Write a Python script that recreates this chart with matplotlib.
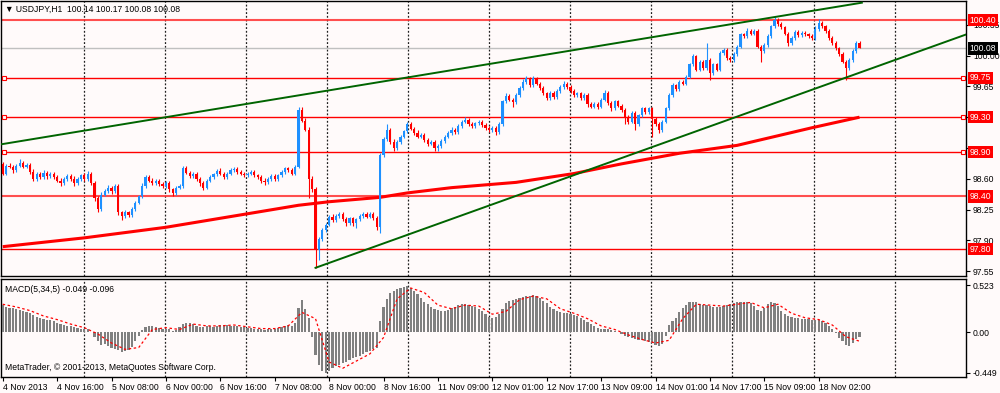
import numpy as np
import matplotlib
matplotlib.use('Agg')
import matplotlib.pyplot as plt
import matplotlib.transforms as mtransforms

# ---------------- data ----------------
first_open = 98.77
closes = [
    98.66, 98.75, 98.74, 98.70, 98.75, 98.78, 98.74, 98.76, 98.68, 98.60,
    98.66, 98.62, 98.67, 98.63, 98.66, 98.62, 98.58, 98.55, 98.60, 98.63,
    98.60, 98.55, 98.60, 98.64, 98.60, 98.66, 98.55, 98.38, 98.26, 98.42,
    98.46, 98.50, 98.46, 98.52, 98.22, 98.18, 98.22, 98.19, 98.26, 98.33,
    98.40, 98.52, 98.62, 98.58, 98.55, 98.58, 98.54, 98.52, 98.55, 98.48,
    98.44, 98.50, 98.52, 98.72, 98.67, 98.63, 98.66, 98.60, 98.55, 98.50,
    98.58, 98.62, 98.65, 98.69, 98.66, 98.62, 98.66, 98.70, 98.71, 98.68,
    98.66, 98.64, 98.66, 98.68, 98.64, 98.62, 98.58, 98.56, 98.60, 98.63,
    98.60, 98.64, 98.68, 98.72, 98.70, 98.66, 98.74, 99.38, 99.26, 99.16,
    98.60, 98.48, 97.79, 97.92, 98.02, 98.08, 98.17, 98.13, 98.18, 98.20,
    98.14, 98.10, 98.15, 98.10, 98.14, 98.18, 98.20, 98.17, 98.20, 98.15,
    98.05, 98.87, 99.05, 99.15, 99.02, 98.95, 99.02, 99.08, 99.14, 99.22,
    99.17, 99.12, 99.08, 99.10, 99.04, 99.00, 99.02, 98.95, 98.97, 99.03,
    99.08, 99.12, 99.16, 99.13, 99.20, 99.25, 99.27, 99.22, 99.20, 99.23,
    99.25, 99.21, 99.18, 99.15, 99.18, 99.13, 99.22, 99.48, 99.54, 99.50,
    99.47, 99.55, 99.63, 99.70, 99.74, 99.66, 99.74, 99.68, 99.63, 99.57,
    99.52, 99.58, 99.53, 99.60, 99.64, 99.68, 99.64, 99.60, 99.55, 99.57,
    99.52, 99.55, 99.45, 99.42, 99.45, 99.42, 99.50, 99.58, 99.46, 99.40,
    99.48, 99.43, 99.38, 99.30, 99.25, 99.35, 99.22, 99.32, 99.40, 99.36,
    99.40, 99.28, 99.22, 99.15, 99.25, 99.40, 99.55, 99.66, 99.62, 99.70,
    99.68, 99.76, 99.90, 99.99, 99.84, 99.93, 99.86, 99.95, 99.80, 99.90,
    99.84, 100.03, 100.06, 99.97, 99.95, 100.02, 100.10, 100.24, 100.22, 100.28,
    100.25, 100.28, 100.10, 100.05, 100.12, 100.22, 100.33, 100.40, 100.36, 100.32,
    100.25, 100.14, 100.20, 100.27, 100.23, 100.26, 100.24, 100.22, 100.20, 100.30,
    100.37, 100.33, 100.28, 100.20, 100.14, 100.08, 100.02, 99.93, 99.86, 99.95,
    100.05, 100.14, 100.08,
]
# wick lengths in pips (0.01)
wick_up = [
    2, 2, 3, 2, 2, 4, 2, 2, 2, 3, 2, 2, 3, 2, 2, 2, 2, 3, 2, 2,
    2, 3, 2, 2, 3, 3, 2, 2, 3, 3, 2, 3, 2, 2, 2, 2, 3, 2, 2, 2,
    2, 3, 2, 2, 3, 2, 2, 2, 2, 2, 2, 2, 2, 3, 3, 2, 2, 2, 2, 2,
    2, 2, 2, 2, 3, 2, 2, 2, 2, 3, 2, 2, 2, 2, 2, 2, 2, 3, 2, 2,
    2, 2, 2, 2, 2, 2, 2, 3, 3, 3, 3, 3, 3, 2, 2, 2, 2, 3, 2, 2,
    2, 3, 2, 2, 2, 2, 2, 2, 2, 2, 3, 2, 3, 7, 3, 3, 2, 2, 2, 3,
    2, 2, 3, 2, 2, 2, 2, 2, 2, 2, 2, 2, 3, 2, 2, 2, 3, 2, 2, 2,
    2, 2, 2, 2, 2, 2, 2, 2, 3, 2, 2, 2, 2, 3, 3, 2, 3, 2, 2, 2,
    2, 2, 2, 2, 2, 3, 2, 2, 2, 2, 2, 3, 2, 2, 2, 2, 2, 3, 2, 2,
    2, 2, 2, 2, 2, 2, 2, 2, 2, 2, 2, 2, 2, 2, 2, 2, 2, 3, 2, 2,
    2, 2, 2, 3, 2, 2, 2, 19, 2, 2, 2, 2, 3, 2, 2, 2, 2, 2, 2, 3,
    2, 2, 2, 2, 2, 2, 2, 4, 3, 2, 2, 2, 2, 2, 2, 2, 2, 2, 2, 3,
    5, 2, 2, 2, 2, 2, 2, 2, 2, 2, 2, 3, 3,
]
wick_dn = [
    2, 2, 2, 3, 2, 2, 2, 2, 3, 3, 2, 2, 2, 3, 2, 2, 2, 3, 2, 2,
    2, 3, 2, 2, 2, 2, 2, 3, 4, 2, 2, 2, 3, 2, 3, 5, 2, 2, 2, 2,
    2, 2, 2, 2, 2, 2, 2, 2, 2, 3, 3, 2, 2, 2, 2, 2, 2, 2, 3, 3,
    2, 2, 2, 2, 2, 2, 2, 2, 2, 2, 2, 2, 2, 2, 2, 2, 3, 3, 2, 2,
    2, 2, 2, 2, 2, 2, 2, 2, 2, 2, 22, 3, 20, 11, 3, 2, 2, 2, 2, 2,
    2, 3, 2, 3, 6, 2, 2, 2, 2, 2, 3, 7, 2, 2, 2, 3, 2, 2, 2, 2,
    2, 2, 2, 2, 2, 3, 2, 3, 3, 2, 2, 2, 2, 2, 2, 2, 2, 2, 2, 2,
    2, 2, 2, 2, 2, 3, 2, 2, 2, 2, 5, 2, 2, 2, 2, 2, 2, 2, 2, 2,
    3, 2, 2, 2, 2, 2, 2, 2, 2, 2, 2, 2, 3, 2, 2, 3, 2, 2, 2, 3,
    2, 2, 2, 8, 3, 2, 6, 2, 2, 2, 2, 20, 2, 3, 2, 2, 2, 2, 2, 2,
    2, 2, 2, 2, 2, 2, 2, 2, 8, 2, 2, 2, 2, 2, 2, 2, 2, 2, 2, 2,
    2, 2, 2, 12, 2, 2, 2, 2, 2, 2, 2, 3, 2, 2, 2, 2, 2, 2, 2, 2,
    2, 2, 2, 2, 2, 2, 2, 2, 14, 2, 2, 2, 0,
]
macd_hist = [
    0.30, 0.28, 0.27, 0.27, 0.26, 0.25, 0.24, 0.22, 0.21, 0.19,
    0.17, 0.16, 0.15, 0.14, 0.13, 0.12, 0.10, 0.09, 0.08, 0.07,
    0.07, 0.06, 0.05, 0.04, 0.04, 0.03, 0.00, -0.05, -0.10, -0.14,
    -0.13, -0.15, -0.17, -0.19, -0.20, -0.22, -0.21, -0.20, -0.16, -0.10,
    -0.04, 0.02, 0.06, 0.07, 0.07, 0.06, 0.05, 0.04, 0.03, 0.03,
    0.01, 0.02, 0.06, 0.09, 0.10, 0.10, 0.09, 0.07, 0.06, 0.06,
    0.07, 0.07, 0.06, 0.07, 0.08, 0.08, 0.08, 0.07, 0.07, 0.07,
    0.06, 0.06, 0.05, 0.05, 0.04, 0.03, 0.03, 0.02, 0.03, 0.04,
    0.04, 0.05, 0.06, 0.07, 0.08, 0.07, 0.10, 0.27, 0.36, 0.26,
    0.16, -0.05, -0.25, -0.36, -0.43, -0.45, -0.43, -0.40, -0.38, -0.36,
    -0.34, -0.33, -0.31, -0.29, -0.28, -0.26, -0.24, -0.22, -0.21, -0.19,
    -0.17, 0.12, 0.28, 0.37, 0.43, 0.46, 0.48, 0.49, 0.50, 0.51,
    0.49, 0.46, 0.42, 0.38, 0.34, 0.31, 0.28, 0.26, 0.25, 0.24,
    0.24, 0.25, 0.27, 0.28, 0.30, 0.31, 0.31, 0.30, 0.29, 0.28,
    0.26, 0.23, 0.20, 0.17, 0.16, 0.17, 0.20, 0.26, 0.32, 0.35,
    0.36, 0.37, 0.38, 0.39, 0.40, 0.40, 0.41, 0.40, 0.38, 0.35,
    0.32, 0.28, 0.26, 0.24, 0.22, 0.21, 0.21, 0.20, 0.19, 0.18,
    0.16, 0.14, 0.11, 0.09, 0.07, 0.05, 0.04, 0.03, 0.03, 0.02,
    0.01, 0.00, -0.02, -0.04, -0.05, -0.06, -0.08, -0.09, -0.09, -0.10,
    -0.11, -0.12, -0.14, -0.15, -0.13, -0.04, 0.08, 0.12, 0.16, 0.22,
    0.27, 0.30, 0.33, 0.34, 0.33, 0.31, 0.30, 0.30, 0.29, 0.28,
    0.28, 0.28, 0.29, 0.30, 0.31, 0.32, 0.33, 0.34, 0.34, 0.33,
    0.32, 0.29, 0.25, 0.24, 0.27, 0.31, 0.33, 0.32, 0.29, 0.24,
    0.20, 0.18, 0.17, 0.16, 0.16, 0.15, 0.15, 0.15, 0.14, 0.14,
    0.13, 0.12, 0.10, 0.07, 0.03, -0.01, -0.06, -0.10, -0.14, -0.15,
    -0.12, -0.08, -0.05,
]
signal_bars = list(range(0, 253, 4))
signal_vals = [
    0.31, 0.28, 0.24, 0.18, 0.14, 0.09, 0.05, -0.02, -0.12, -0.19,
    -0.17, 0.03, 0.05, 0.03, 0.09, 0.07, 0.07, 0.08, 0.06, 0.04,
    0.04, 0.07, 0.22, 0.15, -0.33, -0.40, -0.32, -0.24, -0.06, 0.37,
    0.49, 0.44, 0.30, 0.26, 0.30, 0.29, 0.20, 0.23, 0.36, 0.40,
    0.37, 0.26, 0.21, 0.15, 0.07, 0.03, -0.03, -0.08, -0.12, -0.09,
    0.15, 0.31, 0.30, 0.29, 0.31, 0.33, 0.27, 0.31, 0.21, 0.16,
    0.14, 0.08, -0.05, -0.10,
]
ma_bars = [0, 24, 48, 73, 87, 96, 111, 119, 132, 151, 168, 182, 199, 216, 238, 252]
ma_vals = [97.83, 97.93, 98.05, 98.21, 98.30, 98.34, 98.39, 98.44, 98.50, 98.56,
           98.66, 98.77, 98.89, 98.98, 99.18, 99.30]
trend_up_bars = [-0.8, 252.7]
trend_up_vals = [98.99, 100.60]
trend_lo_bars = [92, 252]
trend_lo_vals = [97.59, 99.805]
levels = [100.40, 99.75, 99.30, 98.90, 98.40, 97.80]
level_marked = [False, True, True, True, False, False]
bid = 100.08
price_ticks = [100.35, 100.00, 99.65, 99.30, 98.95, 98.60, 98.25, 97.90, 97.55]
price_tick_labels = ['100.35', '100.00', '99.65', '', '98.95', '98.60', '98.25', '97.90', '97.55']
macd_ticks = [0.523, 0.00, -0.449]
macd_tick_labels = ['0.523', '0.00', '-0.449']
time_labels = ['4 Nov 2013', '4 Nov 16:00', '5 Nov 08:00', '6 Nov 00:00', '6 Nov 16:00',
               '7 Nov 08:00', '8 Nov 00:00', '8 Nov 16:00', '11 Nov 09:00', '12 Nov 01:00',
               '12 Nov 17:00', '13 Nov 09:00', '14 Nov 01:00', '14 Nov 17:00', '15 Nov 09:00',
               '18 Nov 02:00']
time_label_bars = list(range(0, 241, 16))

# ---------------- style ----------------
BG = '#FFFAFA'
BULL = '#1E90FF'
BEAR = '#FF0000'
FONT = ['Liberation Sans Narrow', 'Liberation Sans', 'DejaVu Sans']
FS = 6.2
plt.rcParams['font.family'] = FONT

W, H = 1000, 393
PX0, PXB = 2.7, 3.4   # pixel of bar 0, pixels per bar
def px2bar(px):
    return (px - PX0) / PXB

fig = plt.figure(figsize=(W / 100, H / 100), dpi=100, facecolor=BG)
left_px, right_px = 1, 966
main_top, main_bot = 1, 276
macd_top, macd_bot = 279, 377
ax = fig.add_axes([left_px / W, 1 - main_bot / H, (right_px - left_px) / W, (main_bot - main_top) / H])
ax2 = fig.add_axes([left_px / W, 1 - macd_bot / H, (right_px - left_px) / W, (macd_bot - macd_top) / H])

xlim = (px2bar(left_px), px2bar(right_px))
for a in (ax, ax2):
    a.set_facecolor(BG)
    a.set_xlim(*xlim)
    for s in a.spines.values():
        s.set_color('black')
        s.set_linewidth(1.0)

def y2p(y):
    return 100.40 - (y - 20.3) / 88.08
ax.set_ylim(y2p(main_bot), y2p(main_top))
def y2m(y):
    return (332.2 - y) / 90.2
ax2.set_ylim(y2m(macd_bot), y2m(macd_top))

# vertical dotted grid
grid_bars = [px2bar(84 + 81.06 * k) for k in range(11)]
for a in (ax, ax2):
    for g in grid_bars:
        a.axvline(g, color='#202020', lw=0.9, ls=(0, (1.5, 1.5)), zorder=1)

# candles
n = len(closes)
opens = [first_open] + closes[:-1]
idx = np.arange(n)
o = np.array(opens); c = np.array(closes)
hi = np.maximum(o, c) + np.array(wick_up) * 0.01
lo = np.minimum(o, c) - np.array(wick_dn) * 0.01
cols = [BULL if cc >= oo else BEAR for oo, cc in zip(o, c)]
ax.vlines(idx, lo, hi, colors=cols, lw=0.8, zorder=4)
body_lo = np.minimum(o, c)
body_h = np.maximum(np.abs(c - o), 0.008)
ax.bar(idx, body_h, bottom=body_lo, width=0.62, color=cols, linewidth=0, zorder=5)

# moving average
ax.plot(ma_bars, ma_vals, color='#FF0000', lw=2.2, solid_capstyle='butt', solid_joinstyle='round', zorder=3)

# trend lines
ax.plot(trend_up_bars, trend_up_vals, color='#006400', lw=1.4, zorder=6)
slope = (trend_lo_vals[1] - trend_lo_vals[0]) / (trend_lo_bars[1] - trend_lo_bars[0])
x_end = xlim[1]
ax.plot([trend_lo_bars[0], x_end], [trend_lo_vals[0], trend_lo_vals[0] + slope * (x_end - trend_lo_bars[0])],
        color='#006400', lw=1.4, zorder=6)

# levels
for lv, mk in zip(levels, level_marked):
    thick = lv in (100.40, 98.40)
    ax.axhline(lv, color='#FF3030' if thick else '#FF0000', lw=1.5 if thick else 1.0,
               alpha=0.85 if thick else 1.0, zorder=2)
    if mk:
        ax.plot([px2bar(4), px2bar(963)], [lv, lv], ls='none', marker='s', ms=3,
                mfc=BG, mec='#FF0000', mew=0.8, zorder=7, clip_on=False)
ax.axhline(bid, color='#C0C0C0', lw=1.0, zorder=2)

# price axis
for a in (ax, ax2):
    a.yaxis.tick_right()
    a.tick_params(axis='y', direction='out', length=3, width=0.8, pad=2, labelsize=FS, colors='black')
    a.tick_params(axis='x', bottom=False, labelbottom=False)
ax.set_yticks(price_ticks)
ax.set_yticklabels(price_tick_labels)
ax2.set_yticks(macd_ticks)
ax2.set_yticklabels(macd_tick_labels)

trans = mtransforms.blended_transform_factory(ax.transAxes, ax.transData)
for lv in levels:
    ax.text(1.004, lv, f'{lv:.2f}', transform=trans, ha='left', va='center', fontsize=FS,
            color='white', clip_on=False, zorder=20,
            bbox=dict(boxstyle='square,pad=0.18', fc='#FF0000', ec='none'))
ax.text(1.004, bid, f'{bid:.2f}', transform=trans, ha='left', va='center', fontsize=FS,
        color='white', clip_on=False, zorder=20,
        bbox=dict(boxstyle='square,pad=0.18', fc='black', ec='none'))

# MACD
ax2.bar(np.arange(len(macd_hist)), macd_hist, width=0.6, color='#808080', linewidth=0, zorder=3)
ax2.plot(signal_bars, signal_vals, color='#FF0000', lw=0.9, ls=(0, (2, 2)), zorder=4)

# time axis
ax2.set_xticks(time_label_bars)
ax2.tick_params(axis='x', bottom=True, labelbottom=True, direction='out', length=3, width=0.8,
                pad=1.5, labelsize=FS)
ax2.set_xticklabels(time_labels, ha='left')

# texts
ax.text(px2bar(5), y2p(9), '\u25BC USDJPY,H1  100.14 100.17 100.08 100.08', fontsize=FS,
        va='center', ha='left', color='black', zorder=20)
ax2.text(px2bar(5), y2m(289), 'MACD(5,34,5) -0.049 -0.096', fontsize=FS, va='center', ha='left',
         color='black', zorder=20)
ax2.text(px2bar(5), y2m(368), 'MetaTrader, \u00a9 2001-2013, MetaQuotes Software Corp.', fontsize=FS,
         va='center', ha='left', color='black', zorder=20)

fig.savefig('out.png', dpi=100, facecolor=BG)
